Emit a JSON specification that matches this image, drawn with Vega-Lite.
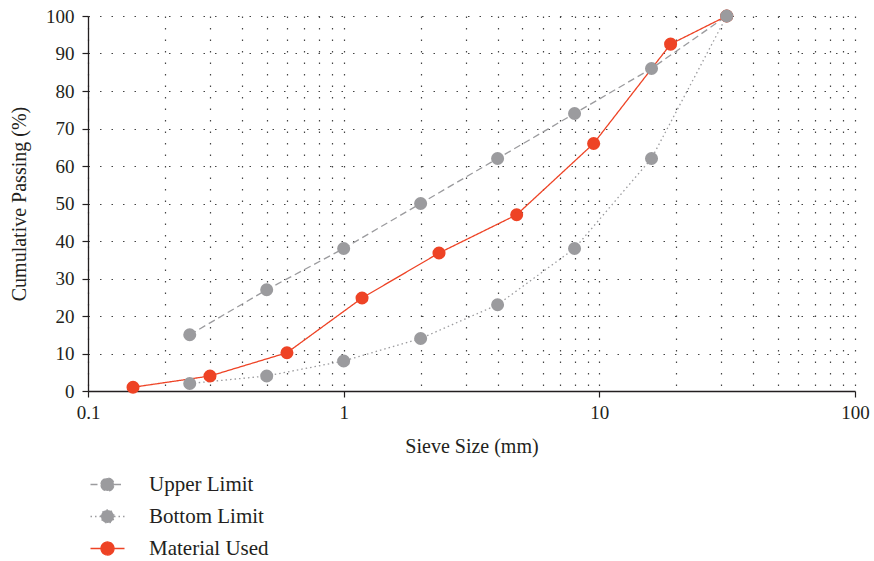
{
  "$schema": "https://vega.github.io/schema/vega-lite/v6.json",
  "width": 767,
  "height": 375,
  "autosize": {"type": "none"},
  "padding": {"left": 88, "top": 16, "right": 19, "bottom": 170},
  "background": "white",
  "config": {
    "font": "Liberation Serif",
    "view": {"stroke": null},
    "axis": {"labelFont": "Liberation Serif", "titleFont": "Liberation Serif", "labelColor": "#231f20", "titleColor": "#231f20", "titleFontWeight": "normal", "labelFontSize": 19, "titleFontSize": 20, "domainColor": "#231f20", "tickColor": "#231f20", "domainWidth": 1.3, "tickWidth": 1.2, "tickSize": 6}
  },
  "data": {
    "values": [
      {"series": "Upper Limit", "size": 0.25, "passing": 15},
      {"series": "Upper Limit", "size": 0.5, "passing": 27},
      {"series": "Upper Limit", "size": 1, "passing": 38},
      {"series": "Upper Limit", "size": 2, "passing": 50},
      {"series": "Upper Limit", "size": 4, "passing": 62},
      {"series": "Upper Limit", "size": 8, "passing": 74},
      {"series": "Upper Limit", "size": 16, "passing": 86},
      {"series": "Upper Limit", "size": 31.5, "passing": 100},
      {"series": "Bottom Limit", "size": 0.25, "passing": 2},
      {"series": "Bottom Limit", "size": 0.5, "passing": 4},
      {"series": "Bottom Limit", "size": 1, "passing": 8},
      {"series": "Bottom Limit", "size": 2, "passing": 14},
      {"series": "Bottom Limit", "size": 4, "passing": 23},
      {"series": "Bottom Limit", "size": 8, "passing": 38},
      {"series": "Bottom Limit", "size": 16, "passing": 62},
      {"series": "Bottom Limit", "size": 31.5, "passing": 100},
      {"series": "Material Used", "size": 0.15, "passing": 1},
      {"series": "Material Used", "size": 0.3, "passing": 4},
      {"series": "Material Used", "size": 0.6, "passing": 10.2},
      {"series": "Material Used", "size": 1.18, "passing": 24.8},
      {"series": "Material Used", "size": 2.36, "passing": 36.8},
      {"series": "Material Used", "size": 4.75, "passing": 47},
      {"series": "Material Used", "size": 9.5, "passing": 66},
      {"series": "Material Used", "size": 19, "passing": 92.5},
      {"series": "Material Used", "size": 31.5, "passing": 100}
    ]
  },
  "encoding": {
    "x": {
      "field": "size", "type": "quantitative",
      "scale": {"type": "log", "domain": [0.1, 100], "nice": false},
      "title": "Sieve Size (mm)",
      "axis": {
        "values": [0.1,0.2,0.3,0.4,0.5,0.6,0.7,0.8,0.9,1,2,3,4,5,6,7,8,9,10,20,30,40,50,60,70,80,90,100],
        "labelExpr": "abs(log(datum.value)/LN10 - round(log(datum.value)/LN10)) < 0.000001 ? datum.label : ''",
        "tickOpacity": {"condition": {"test": "abs(log(datum.value)/LN10 - round(log(datum.value)/LN10)) < 0.000001", "value": 1}, "value": 0},
        "grid": true, "gridDash": [1.5, 10], "gridColor": "#444", "gridWidth": 1.2,
        "labelPadding": 6, "titlePadding": 14, "labelFlush": false, "labelOverlap": false
      }
    },
    "y": {
      "field": "passing", "type": "quantitative",
      "scale": {"domain": [0, 100], "nice": false},
      "title": "Cumulative Passing (%)",
      "axis": {
        "values": [0,10,20,30,40,50,60,70,80,90,100],
        "grid": true, "gridDash": [1.5, 10], "gridColor": "#444", "gridWidth": 1.2,
        "labelPadding": 8, "titlePadding": 16, "labelOverlap": false, "labelFlush": false
      }
    },
    "color": {
      "field": "series", "type": "nominal",
      "scale": {"domain": ["Upper Limit", "Bottom Limit", "Material Used"], "range": ["#9b9b9e", "#9b9b9e", "#ee4325"]},
      "legend": {
        "title": null,
        "orient": "none",
        "legendX": 9,
        "legendY": 458,
        "direction": "vertical",
        "symbolType": "M-2.125,0L-0.8125,0M0.8125,0L2.125,0M-0.8125,0A0.8125,0.8125,0,1,1,0.8125,0A0.8125,0.8125,0,1,1,-0.8125,0Z",
        "symbolSize": 256,
        "symbolStrokeWidth": 1.3,
        "labelOffset": 31,
        "labelFont": "Liberation Serif",
        "labelFontSize": 21,
        "labelColor": "#231f20",
        "rowPadding": 10,
        "padding": 0,
        "encode": {
          "symbols": {
            "update": {
              "fill": {"scale": "color", "field": "value"},
              "stroke": {"scale": "color", "field": "value"},
              "strokeDash": {"scale": "strokeDash", "field": "value"},
              "opacity": {"value": 1}
            }
          }
        }
      }
    }
  },
  "layer": [
    {
      "mark": {"type": "line", "strokeWidth": 1.3},
      "encoding": {
        "strokeDash": {
          "field": "series", "type": "nominal",
          "scale": {"domain": ["Upper Limit", "Bottom Limit", "Material Used"], "range": [[7, 4], [1.5, 3], [1, 0]]},
          "legend": null
        }
      }
    },
    {
      "mark": {"type": "point", "shape": "circle", "filled": true, "opacity": 1, "size": 170},
      "encoding": {
        "order": {"field": "series", "sort": "ascending"}
      }
    }
  ]
}
